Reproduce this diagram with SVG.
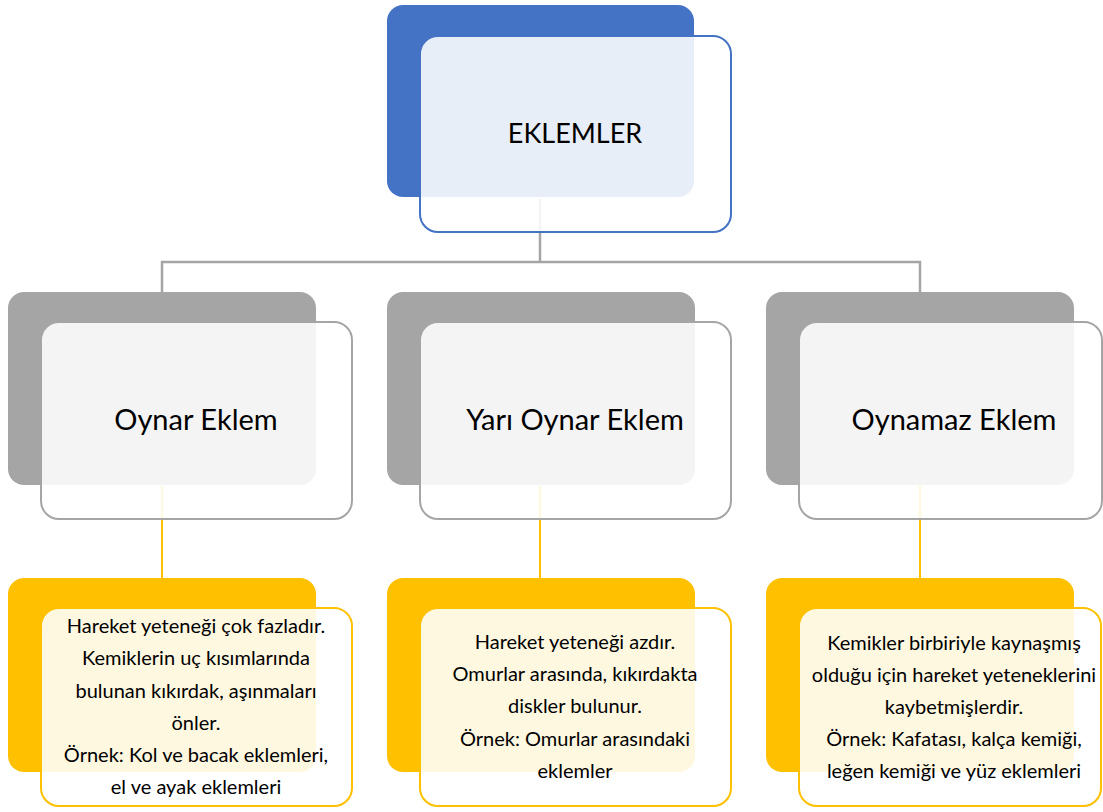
<svg xmlns="http://www.w3.org/2000/svg" width="1103" height="812" viewBox="0 0 1103 812">
<style>
.t{font-family:Lato,"Open Sans","Liberation Sans",sans-serif;fill:#000;text-anchor:middle}
.big{font-size:29px}
.sm{font-size:20px}
.front{fill:#fff;fill-opacity:0.88;stroke-width:2}
.bl{stroke:#4472C4}.gr{stroke:#A5A5A5}.ye{stroke:#FFC000}
</style>
<rect width="1103" height="812" fill="#fff"/>
<g id="backs">
<rect x="387" y="5" width="307" height="192" rx="16" fill="#4472C4"/>
<rect x="8" y="292" width="308" height="193" rx="16" fill="#A5A5A5"/>
<rect x="387" y="292" width="308" height="193" rx="16" fill="#A5A5A5"/>
<rect x="766" y="292" width="308" height="193" rx="16" fill="#A5A5A5"/>
<rect x="8" y="578" width="308" height="194" rx="16" fill="#FFC000"/>
<rect x="387" y="578" width="308" height="194" rx="16" fill="#FFC000"/>
<rect x="766" y="578" width="308" height="194" rx="16" fill="#FFC000"/>
</g>
<g id="connectors" fill="none">
<path d="M540 199V262M162 292V262H920V292" stroke="#A5A5A5" stroke-width="2.5"/>
<path d="M162 486V578M540 486V578M920 486V578" stroke="#FFC000" stroke-width="2"/>
</g>
<g id="root">
<rect class="front bl" x="420" y="36" width="311" height="196" rx="18"/>
<text class="t" font-size="27" x="575" y="143">EKLEMLER</text>
</g>
<g id="oynar">
<rect class="front gr" x="41" y="322" width="311" height="197" rx="18"/>
<text class="t big" x="196" y="430">Oynar Eklem</text>
</g>
<g id="yari">
<rect class="front gr" x="420" y="322" width="311" height="197" rx="18"/>
<text class="t big" x="575" y="430">Yarı Oynar Eklem</text>
</g>
<g id="oynamaz">
<rect class="front gr" x="799" y="322" width="303" height="197" rx="18"/>
<text class="t big" x="954" y="430">Oynamaz Eklem</text>
</g>
<g id="oynar-desc">
<rect class="front ye" x="41" y="608" width="311" height="198" rx="18"/>
<text class="t sm" x="196" y="633">Hareket yeteneği çok fazladır.</text>
<text class="t sm" x="196" y="665">Kemiklerin uç kısımlarında</text>
<text class="t sm" x="196" y="698">bulunan kıkırdak, aşınmaları</text>
<text class="t sm" x="196" y="730">önler.</text>
<text class="t sm" x="196" y="762">Örnek: Kol ve bacak eklemleri,</text>
<text class="t sm" x="196" y="794">el ve ayak eklemleri</text>
</g>
<g id="yari-desc">
<rect class="front ye" x="420" y="608" width="311" height="198" rx="18"/>
<text class="t sm" x="575" y="649">Hareket yeteneği azdır.</text>
<text class="t sm" x="575" y="681">Omurlar arasında, kıkırdakta</text>
<text class="t sm" x="575" y="713">diskler bulunur.</text>
<text class="t sm" x="575" y="746">Örnek: Omurlar arasındaki</text>
<text class="t sm" x="575" y="778">eklemler</text>
</g>
<g id="oynamaz-desc">
<rect class="front ye" x="799" y="608" width="302" height="198" rx="18"/>
<text class="t sm" x="954" y="650">Kemikler birbiriyle kaynaşmış</text>
<text class="t sm" x="954" y="682">olduğu için hareket yeteneklerini</text>
<text class="t sm" x="954" y="714">kaybetmişlerdir.</text>
<text class="t sm" x="954" y="746">Örnek: Kafatası, kalça kemiği,</text>
<text class="t sm" x="954" y="778">leğen kemiği ve yüz eklemleri</text>
</g>
</svg>
